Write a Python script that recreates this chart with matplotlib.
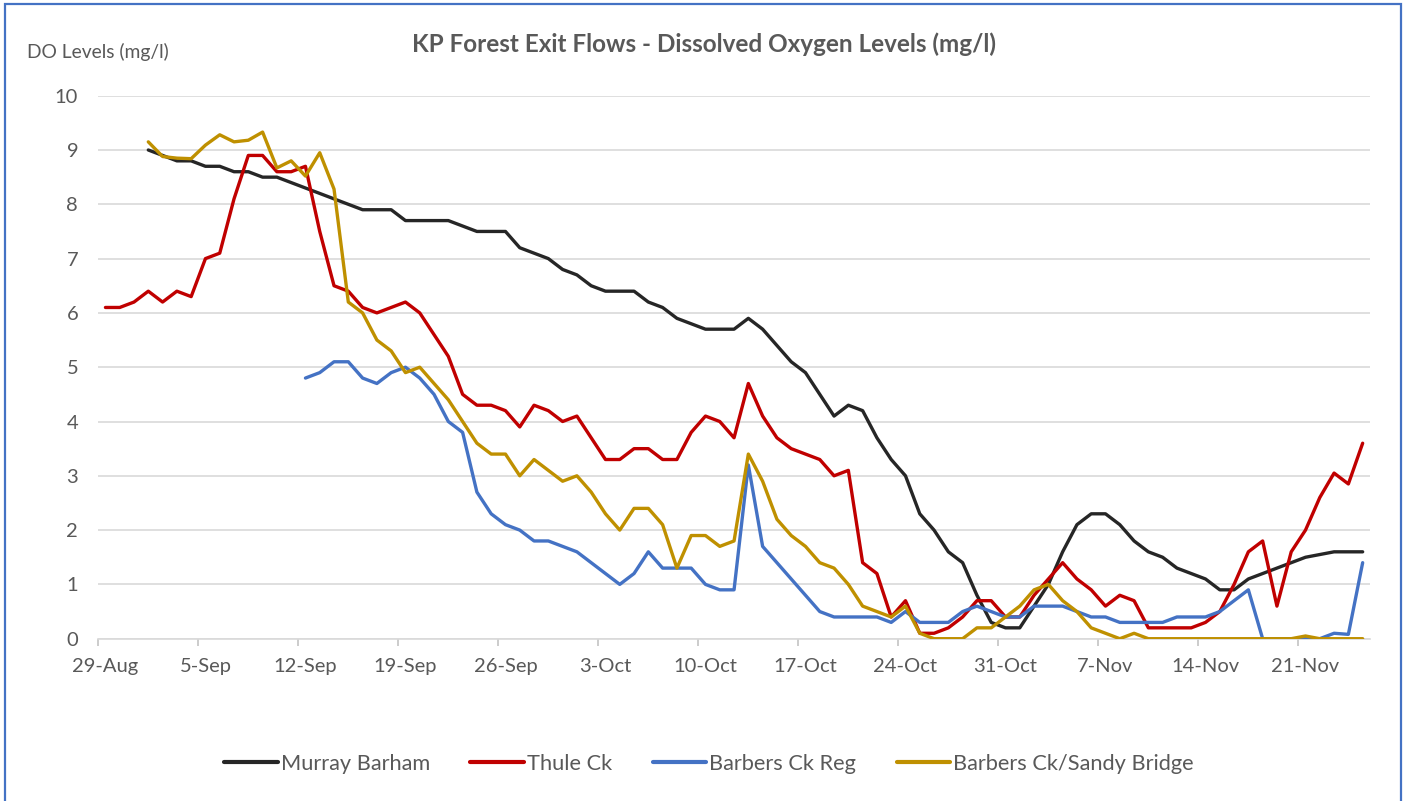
import numpy as np
import matplotlib
matplotlib.use("Agg")
import matplotlib.pyplot as plt
from matplotlib.patches import Rectangle

plt.rcParams['font.family'] = ['Lato', 'DejaVu Sans']

# ---- data (daily readings, 29-Aug .. 25-Nov; None = no reading) ----
tick_labels = ["29-Aug", "5-Sep", "12-Sep", "19-Sep", "26-Sep", "3-Oct", "10-Oct",
               "17-Oct", "24-Oct", "31-Oct", "7-Nov", "14-Nov", "21-Nov"]

murray_barham = [None, None, None,
    9.0, 8.9, 8.8, 8.8, 8.7, 8.7, 8.6, 8.6, 8.5, 8.5, 8.4, 8.3, 8.2, 8.1, 8.0, 7.9,
    7.9, 7.9, 7.7, 7.7, 7.7, 7.7, 7.6, 7.5, 7.5, 7.5, 7.2, 7.1, 7.0, 6.8, 6.7, 6.5,
    6.4, 6.4, 6.4, 6.2, 6.1, 5.9, 5.8, 5.7, 5.7, 5.7, 5.9, 5.7, 5.4, 5.1, 4.9, 4.5,
    4.1, 4.3, 4.2, 3.7, 3.3, 3.0, 2.3, 2.0, 1.6, 1.4, 0.8, 0.3, 0.2, 0.2, 0.6, 1.0,
    1.6, 2.1, 2.3, 2.3, 2.1, 1.8, 1.6, 1.5, 1.3, 1.2, 1.1, 0.9, 0.9, 1.1, 1.2, 1.3,
    1.4, 1.5, 1.55, 1.6, 1.6, 1.6]

thule_ck = [
    6.1, 6.1, 6.2, 6.4, 6.2, 6.4, 6.3, 7.0, 7.1, 8.1, 8.9, 8.9, 8.6, 8.6, 8.7, 7.5,
    6.5, 6.4, 6.1, 6.0, 6.1, 6.2, 6.0, 5.6, 5.2, 4.5, 4.3, 4.3, 4.2, 3.9, 4.3, 4.2,
    4.0, 4.1, 3.7, 3.3, 3.3, 3.5, 3.5, 3.3, 3.3, 3.8, 4.1, 4.0, 3.7, 4.7, 4.1, 3.7,
    3.5, 3.4, 3.3, 3.0, 3.1, 1.4, 1.2, 0.4, 0.7, 0.1, 0.1, 0.2, 0.4, 0.7, 0.7, 0.4,
    0.4, 0.8, 1.1, 1.4, 1.1, 0.9, 0.6, 0.8, 0.7, 0.2, 0.2, 0.2, 0.2, 0.3, 0.5, 1.0,
    1.6, 1.8, 0.6, 1.6, 2.0, 2.6, 3.05, 2.85, 3.6]

barbers_ck_reg = [None] * 14 + [
    4.8, 4.9, 5.1, 5.1, 4.8, 4.7, 4.9, 5.0, 4.8, 4.5, 4.0, 3.8, 2.7, 2.3, 2.1, 2.0,
    1.8, 1.8, 1.7, 1.6, 1.4, 1.2, 1.0, 1.2, 1.6, 1.3, 1.3, 1.3, 1.0, 0.9, 0.9, 3.2,
    1.7, 1.4, 1.1, 0.8, 0.5, 0.4, 0.4, 0.4, 0.4, 0.3, 0.5, 0.3, 0.3, 0.3, 0.5, 0.6,
    0.5, 0.4, 0.4, 0.6, 0.6, 0.6, 0.5, 0.4, 0.4, 0.3, 0.3, 0.3, 0.3, 0.4, 0.4, 0.4,
    0.5, 0.7, 0.9, 0.0, 0.0, 0.0, 0.0, 0.0, 0.1, 0.08, 1.4]

barbers_sandy_bridge = [None, None, None,
    9.15, 8.88, 8.85, 8.84, 9.09, 9.28, 9.15, 9.18, 9.33, 8.67, 8.8, 8.52, 8.95, 8.28,
    6.2, 6.0, 5.5, 5.3, 4.9, 5.0, 4.7, 4.4, 4.0, 3.6, 3.4, 3.4, 3.0, 3.3, 3.1, 2.9,
    3.0, 2.7, 2.3, 2.0, 2.4, 2.4, 2.1, 1.3, 1.9, 1.9, 1.7, 1.8, 3.4, 2.9, 2.2, 1.9,
    1.7, 1.4, 1.3, 1.0, 0.6, 0.5, 0.4, 0.6, 0.1, 0.0, 0.0, 0.0, 0.2, 0.2, 0.4, 0.6,
    0.9, 1.0, 0.7, 0.5, 0.2, 0.1, 0.0, 0.1, 0.0, 0.0, 0.0, 0.0, 0.0, 0.0, 0.0, 0.0,
    0.0, 0.0, 0.0, 0.05, 0.0, 0.0, 0.0, 0.0]

series_names = ["Murray Barham", "Thule Ck", "Barbers Ck Reg", "Barbers Ck/Sandy Bridge"]
series_colors = ["#262626", "#C00000", "#4472C4", "#BF9000"]

# ---- figure ----
W, H = 1407, 801
fig = plt.figure(figsize=(W / 100, H / 100), dpi=100)
ax = fig.add_axes([98.3 / W, 1 - 638.7 / H, (1369.8 - 98.3) / W, (638.7 - 95.7) / H])

def to_arr(v):
    return np.array([np.nan if a is None else a for a in v], dtype=float)

all_series = [murray_barham, thule_ck, barbers_ck_reg, barbers_sandy_bridge]
for vals, name, col in zip(all_series, series_names, series_colors):
    y = to_arr(vals)
    x = np.arange(len(y)) + 0.5
    ax.plot(x, y, color=col, lw=2.4, label=name,
            solid_joinstyle='round', solid_capstyle='round', zorder=3)

n_days = 89
ax.set_xlim(0, n_days)
ax.set_ylim(0, 10)

ax.set_yticks(np.arange(0, 11, 1))
ax.yaxis.grid(True, color="#D9D9D9", lw=1.2)
ax.set_axisbelow(True)
ax.tick_params(axis='y', length=0, pad=14.5, labelsize=14.5, labelcolor="#595959")

tick_pos = np.arange(0, 7 * len(tick_labels), 7)
ax.set_xticks(tick_pos)
ax.set_xticklabels([])
ax.tick_params(axis='x', which='major', length=5, width=1.1, color="#BFBFBF", direction='out')
ax.set_xticks(tick_pos + 0.5, minor=True)
ax.set_xticklabels(tick_labels, minor=True)
ax.tick_params(axis='x', which='minor', length=0, pad=14, labelsize=14.5, labelcolor="#595959")

for s in ["top", "right", "left"]:
    ax.spines[s].set_visible(False)
ax.spines["bottom"].set_color("#D9D9D9")
ax.spines["bottom"].set_linewidth(1.2)

fig.text(704 / W, 1 - 44 / H, "KP Forest Exit Flows - Dissolved Oxygen Levels (mg/l)",
         ha='center', va='center', fontsize=17.5, fontweight='bold', color="#595959")
fig.text(27 / W, 1 - 52 / H, "DO Levels (mg/l)", ha='left', va='center',
         fontsize=13.9, color="#595959")

leg = fig.legend(loc='center', bbox_to_anchor=(709 / W, 1 - 764 / H), ncol=4,
                 frameon=False, fontsize=15.7, handlelength=2.45, handletextpad=0.15,
                 columnspacing=1.85, labelcolor="#595959")
for line in leg.get_lines():
    line.set_linewidth(3)

fig.patches.append(Rectangle((5 / W, -0.05), (1401 - 5) / W, 1.05 - 4 / H,
                             transform=fig.transFigure, fill=False,
                             edgecolor="#4472C4", lw=1.6, zorder=10))

fig.savefig("out.png", dpi=100)
